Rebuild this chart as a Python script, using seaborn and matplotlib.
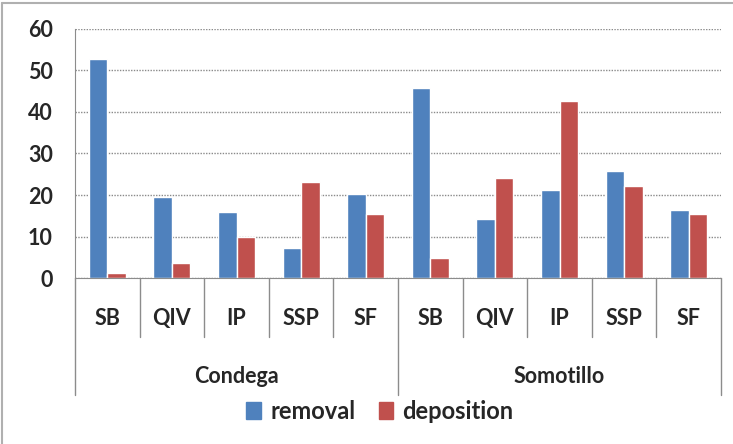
import pandas as pd
import seaborn as sns
import matplotlib.pyplot as plt
from matplotlib.transforms import blended_transform_factory

sites = ["Condega", "Somotillo"]
cats = ["SB", "QIV", "IP", "SSP", "SF"]
removal = [52.7, 19.5, 16.0, 7.2, 20.2, 45.9, 14.2, 21.3, 25.8, 16.3]
deposition = [1.3, 3.6, 9.9, 23.2, 15.5, 4.7, 24.0, 42.7, 22.2, 15.4]

labels = [s + " " + c for s in sites for c in cats]
data = pd.DataFrame({"slot": labels * 2,
                     "value": removal + deposition,
                     "type": ["removal"] * 10 + ["deposition"] * 10})

sns.set_style("white")
plt.rcParams["font.family"] = ["Lato", "DejaVu Sans"]

fig = plt.figure(figsize=(7.33, 4.44), dpi=100)
ax = fig.add_axes([75 / 733, 1 - 278 / 444, (721 - 75) / 733, (278 - 29) / 444])

sns.barplot(data=data, x="slot", y="value", hue="type", order=labels,
            hue_order=["removal", "deposition"],
            palette=["#4F81BD", "#C0504D"], width=0.57, saturation=1,
            legend=False, ax=ax)

ax.set_xlim(-0.5, 9.5)
ax.set_ylim(0, 60)
ax.set_yticks(range(0, 61, 10))
ax.set_xlabel("")
ax.set_ylabel("")
ax.grid(axis="y", color="#8a8a8a", linestyle=(0, (1, 1)), linewidth=1)
ax.set_axisbelow(True)
for s in ["top", "right"]:
    ax.spines[s].set_visible(False)
for s in ["left", "bottom"]:
    ax.spines[s].set_color("#8c8c8c")
ax.tick_params(axis="y", length=6, color="#8c8c8c", pad=10, labelsize=15.5)
for t in ax.get_yticklabels():
    t.set_fontweight("bold")

ax.set_xticks(range(10), labels=cats * 2)
ax.tick_params(axis="x", length=0, pad=29, labelsize=15.5)
for t in ax.get_xticklabels():
    t.set_va("center")
    t.set_fontweight("bold")

tr = blended_transform_factory(ax.transData, ax.transAxes)
for i in range(11):
    outer = i in (0, 5, 10)
    y0 = -0.47 if outer else -0.237
    ax.plot([i - 0.5, i - 0.5], [0, y0], color="#8c8c8c", lw=1,
            transform=tr, clip_on=False)
for k, s in enumerate(sites):
    ax.text(2 + 5 * k, -0.397, s, transform=tr, ha="center", va="center",
            fontsize=15.5, fontweight="bold")

handles = [plt.Rectangle((0, 0), 1, 1, color=c) for c in ["#4F81BD", "#C0504D"]]
fig.legend(handles, ["removal", "deposition"], loc="center",
           bbox_to_anchor=(380 / 733, 1 - 411 / 444), ncol=2, frameon=False,
           handlelength=0.6, handleheight=0.7,
           handletextpad=0.4, columnspacing=1.0, prop={"weight": "bold", "size": 17})

fig.add_artist(plt.Line2D([2 / 733, 2 / 733], [0, 1 - 3 / 444], color="#b0b0b0", lw=1.5))
fig.add_artist(plt.Line2D([2 / 733, 1], [1 - 3 / 444, 1 - 3 / 444], color="#b0b0b0", lw=1.5))

fig.savefig("out.png", dpi=100)
